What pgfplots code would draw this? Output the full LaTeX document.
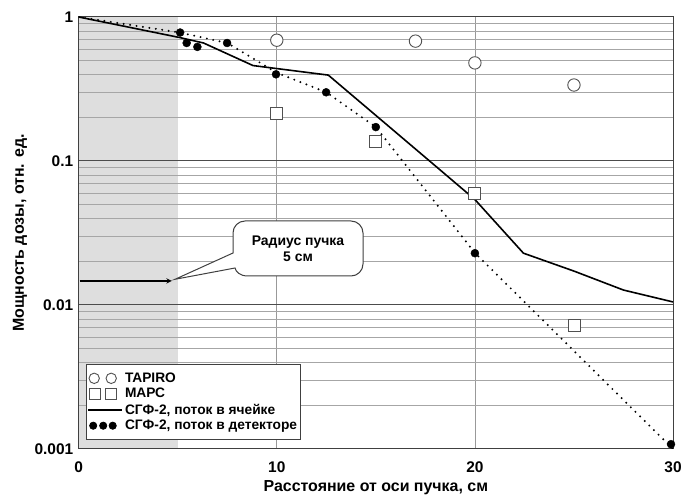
\documentclass[border=0pt]{standalone}
\usepackage{fontspec}
\setmainfont{Liberation Sans}
\usepackage{pgfplots}
\pgfplotsset{compat=1.18}
\definecolor{markgray}{HTML}{505050}
\definecolor{shade}{HTML}{DEDEDE}
\pgfplotsset{
  twocircles/.style={legend image code/.code={\draw[##1, mark size=5.2bp] plot[only marks] coordinates {(6bp,0bp) (23bp,0bp)};}},
  twosquares/.style={legend image code/.code={\draw[##1, mark size=5.5bp] plot[only marks] coordinates {(6.5bp,0bp) (23bp,0bp)};}},
  solidline/.style={legend image code/.code={\draw[##1] (0bp,0bp) -- (34bp,0bp);}},
  threedots/.style={legend image code/.code={\draw[##1, mark size=3.6bp] plot[only marks] coordinates {(5bp,0bp) (15bp,0bp) (24.5bp,0bp)};}},
}
\begin{document}
\begin{tikzpicture}
\begin{axis}[
  at={(78.7bp,51bp)}, anchor=south west,
  scale only axis, width=594.3bp, height=432bp,
  set layers,
  ymode=log, xmin=0, xmax=30, ymin=0.001, ymax=1,
  xtick={0,10,20,30}, xticklabels={0,10,20,30},
  ytick={0.001,0.01,0.1,1}, yticklabels={0.001,0.01,0.1,1},
  minor ytick={0.002,0.003,0.004,0.005,0.006,0.007,0.008,0.009,
               0.02,0.03,0.04,0.05,0.06,0.07,0.08,0.09,
               0.2,0.3,0.4,0.5,0.6,0.7,0.8,0.9},
  major tick length=0pt, minor tick length=0pt,
  xmajorgrids, ymajorgrids, yminorgrids,
  major x grid style={draw=black!40, line width=0.8bp},
  major y grid style={draw=black!70, line width=1bp},
  minor y grid style={draw=black!35, line width=0.8bp},
  axis line style={draw=black!75, line width=1bp},
  tick label style={font=\bfseries\fontsize{15.5}{15.5}\selectfont},
  yticklabel style={xshift=-2bp},
  xticklabel style={yshift=-9bp},
  xlabel={Расстояние от оси пучка, см},
  ylabel={Мощность дозы, отн. ед.},
  label style={font=\bfseries\fontsize{16}{16}\selectfont},
  xlabel style={at={(axis description cs:0.5,-0.0903)}, anchor=center},
  ylabel style={at={(axis description cs:-0.0988,0.5)}, anchor=center},
  legend style={at={(0.0123,0.197)}, anchor=north west, draw=black!75,
    line width=0.8bp, fill=white, font=\bfseries\fontsize{13.8}{13.8}\selectfont,
    inner xsep=1bp, inner ysep=6.5bp, row sep=0.5bp},
  legend cell align=left,
]
\addplot[draw=none, fill=shade, on layer=axis background, forget plot]
  coordinates {(0,0.001) (5,0.001) (5,1) (0,1)};

% TAPIRO
\addplot[only marks, mark=*, mark size=6.2bp,
  mark options={draw=markgray, fill=white, line width=0.9bp}, twocircles]
  coordinates {(10,0.69) (17,0.68) (20,0.48) (25,0.337)};
\addlegendentry{TAPIRO}

% MAPC
\addplot[only marks, mark=square*, mark size=6bp,
  mark options={draw=markgray, fill=white, line width=0.9bp}, twosquares]
  coordinates {(10,0.214) (15,0.136) (20,0.0597) (25,0.0072)};
\addlegendentry{МАРС}

% SGF-2 cell
\addplot[black, line width=1.6bp, no marks, solidline]
  coordinates {(0,1) (5.1,0.72) (6.3,0.66) (8.8,0.46) (12.6,0.395)
               (17.75,0.099) (20,0.054) (22.45,0.0229) (25,0.0172)
               (27.5,0.0127) (30,0.0105)};
\addlegendentry{СГФ-2, поток в ячейке}

% SGF-2 detector
\addplot[only marks, mark=*, mark size=4bp,
  mark options={draw=black, fill=black}, threedots]
  coordinates {(5.12,0.78) (5.45,0.66) (5.99,0.62) (7.49,0.66)
               (9.96,0.40) (12.49,0.30) (15.0,0.172) (20.0,0.0229) (29.9,0.00108)};
\addlegendentry{СГФ-2, поток в детекторе}

% dotted line
\addplot[black, line width=2.2bp, line cap=round, dash pattern=on 0pt off 6.5bp,
  no marks, forget plot]
  coordinates {(0,1) (5.1,0.78) (7.5,0.66) (10,0.41) (12.5,0.30)
               (15,0.172) (20,0.023) (30,0.001)};

% arrow at beam radius
\addplot[black, line width=1.4bp, -stealth, forget plot]
  coordinates {(0.05,0.0147) (4.7,0.0147)};
\end{axis}

% callout
\draw[fill=white, draw=black!75, line width=1bp]
  (175bp,220.7bp) -- (233bp,247bp) -- (233bp,267bp)
  arc[start angle=180, end angle=90, radius=12bp] -- (351bp,279bp)
  arc[start angle=90, end angle=0, radius=12bp] -- (363bp,236bp)
  arc[start angle=0, end angle=-90, radius=12bp] -- (248bp,224bp)
  .. controls (240bp,224bp) and (236bp,228bp) .. (235bp,232bp) -- cycle;
\node[font=\bfseries\fontsize{14}{16}\selectfont, align=center] at (298bp,251bp)
  {Радиус пучка\\5 см};
\pgfresetboundingbox
\path[use as bounding box] (0bp,0bp) rectangle (683bp,500bp);
\end{tikzpicture}
\end{document}
